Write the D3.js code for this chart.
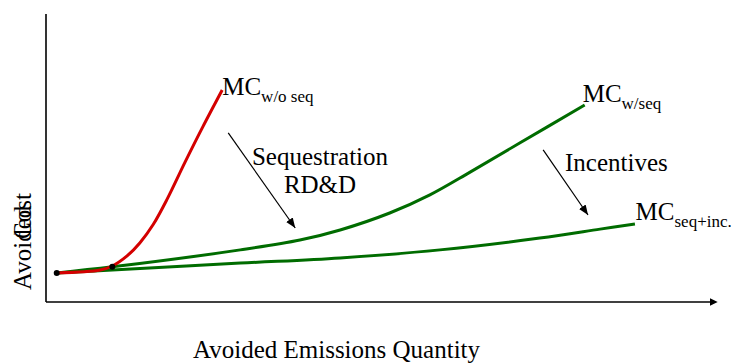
<!DOCTYPE html>
<html><head><meta charset="utf-8">
<script src="https://cdn.jsdelivr.net/npm/d3@7"></script>
<style>
html,body{margin:0;padding:0;background:#fff;}
svg{display:block;}
</style></head>
<body>
<svg id="chart" width="731" height="364"></svg>
<script>
// Abstract units: quantity 0..100, cost 0..100
const redQty  = [1.6, 8.1, 9.9, 12.1, 14.0, 16.0, 18.1, 20.7, 23.4, 26.3];
const redCost = [10.1, 11.1, 12.5, 16.0, 20.5, 26.9, 35.8, 48.3, 60.8, 73.6];

const seqQty  = [1.6, 9.9, 29.0, 37.9, 43.9, 51.3, 57.3, 63.3, 70.7, 80.4];
const seqCost = [10.1, 12.2, 18.1, 21.5, 25.0, 30.9, 37.2, 45.1, 55.2, 68.4];

const incQty  = [1.6, 9.9, 29.0, 43.9, 58.8, 73.7, 82.7, 87.9];
const incCost = [10.1, 11.1, 13.5, 15.3, 18.1, 22.2, 25.3, 27.1];

const dotQty  = [1.6, 9.9];
const dotCost = [10.1, 12.2];

// arrows: [qtyStart, costStart, qtyEnd, costEnd]
const arrowSeq = [27.2, 58.7, 37.2, 25.7];
const arrowInc = [74.2, 52.8, 80.9, 30.2];

const labels = {
  xTitle: "Avoided Emissions Quantity",
  yTitle1: "Avoided",
  yTitle2: "Cost",
  seqText1: "Sequestration",
  seqText2: "RD&D",
  incText: "Incentives"
};

const FONT = "'Liberation Serif'";
const svg = d3.select("#chart");
const x = d3.scaleLinear().domain([0, 100]).range([46, 716]);
const y = d3.scaleLinear().domain([0, 100]).range([302, 14]);

const defs = svg.append("defs");
defs.append("marker").attr("id","ah").attr("viewBox","0 0 10 10")
  .attr("refX",10).attr("refY",5).attr("markerWidth",10).attr("markerHeight",10)
  .attr("markerUnits","userSpaceOnUse").attr("orient","auto")
  .append("path").attr("d","M0,1 L10,5 L0,9 Z").attr("fill","#000");
defs.append("marker").attr("id","axh").attr("viewBox","0 0 10 10")
  .attr("refX",2).attr("refY",5).attr("markerWidth",8).attr("markerHeight",8)
  .attr("markerUnits","userSpaceOnUse").attr("orient","auto")
  .append("path").attr("d","M0,0 L10,5 L0,10 Z").attr("fill","#000");

// axes
svg.append("line").attr("x1", x(0)).attr("x2", x(0)).attr("y1", y(100)).attr("y2", y(0))
  .attr("stroke","#000").attr("stroke-width",1.6);
svg.append("line").attr("x1", x(0)).attr("x2", x(99.3)).attr("y1", y(0)).attr("y2", y(0))
  .attr("stroke","#000").attr("stroke-width",1.6).attr("marker-end","url(#axh)");

const line = d3.line().x(d => x(d[0])).y(d => y(d[1])).curve(d3.curveCatmullRom.alpha(0.5));
const zip = (a, b) => a.map((v, i) => [v, b[i]]);

svg.append("path").datum(zip(incQty, incCost)).attr("d", line)
  .attr("fill","none").attr("stroke","#006c00").attr("stroke-width",3);
svg.append("path").datum(zip(seqQty, seqCost)).attr("d", line)
  .attr("fill","none").attr("stroke","#006c00").attr("stroke-width",3);
svg.append("path").datum(zip(redQty, redCost)).attr("d", line)
  .attr("fill","none").attr("stroke","#d40000").attr("stroke-width",3);

svg.selectAll("circle.dot").data(zip(dotQty, dotCost)).enter().append("circle")
  .attr("cx", d => x(d[0])).attr("cy", d => y(d[1])).attr("r", 3).attr("fill","#000");

// arrows
[arrowSeq, arrowInc].forEach(a => {
  svg.append("line").attr("x1", x(a[0])).attr("y1", y(a[1])).attr("x2", x(a[2])).attr("y2", y(a[3]))
    .attr("stroke","#000").attr("stroke-width",1.2).attr("marker-end","url(#ah)");
});

function txt(px, py, s, size) {
  return svg.append("text").attr("x", px).attr("y", py).style("font-family", FONT)
    .style("font-size", (size || 25) + "px").attr("fill","#000").text(s);
}

// MC labels
function mcLabel(px, py, sub) {
  const t = svg.append("text").attr("x", px).attr("y", py).style("font-family", FONT)
    .style("font-size", "25px").attr("fill","#000");
  t.append("tspan").text("MC");
  t.append("tspan").style("font-size", "17px").attr("dy", 7).text(sub);
}
mcLabel(x(26.3), y(72), "w/o seq");
mcLabel(x(80.1), y(69.6), "w/seq");
mcLabel(x(88), y(28.5), "seq+inc.");

txt(320, y(47.6), labels.seqText1).attr("text-anchor","middle");
txt(320, y(37.8), labels.seqText2).attr("text-anchor","middle");
txt(565, y(45.6), labels.incText);

txt(193, 358, labels.xTitle);

svg.append("text").attr("transform","translate(31,290) rotate(-90)").style("font-family", FONT)
  .style("font-size", "25px").text(labels.yTitle1);
svg.append("text").attr("transform","translate(31,239) rotate(-90)").style("font-family", FONT)
  .style("font-size", "25px").text(labels.yTitle2);
</script>
</body></html>
